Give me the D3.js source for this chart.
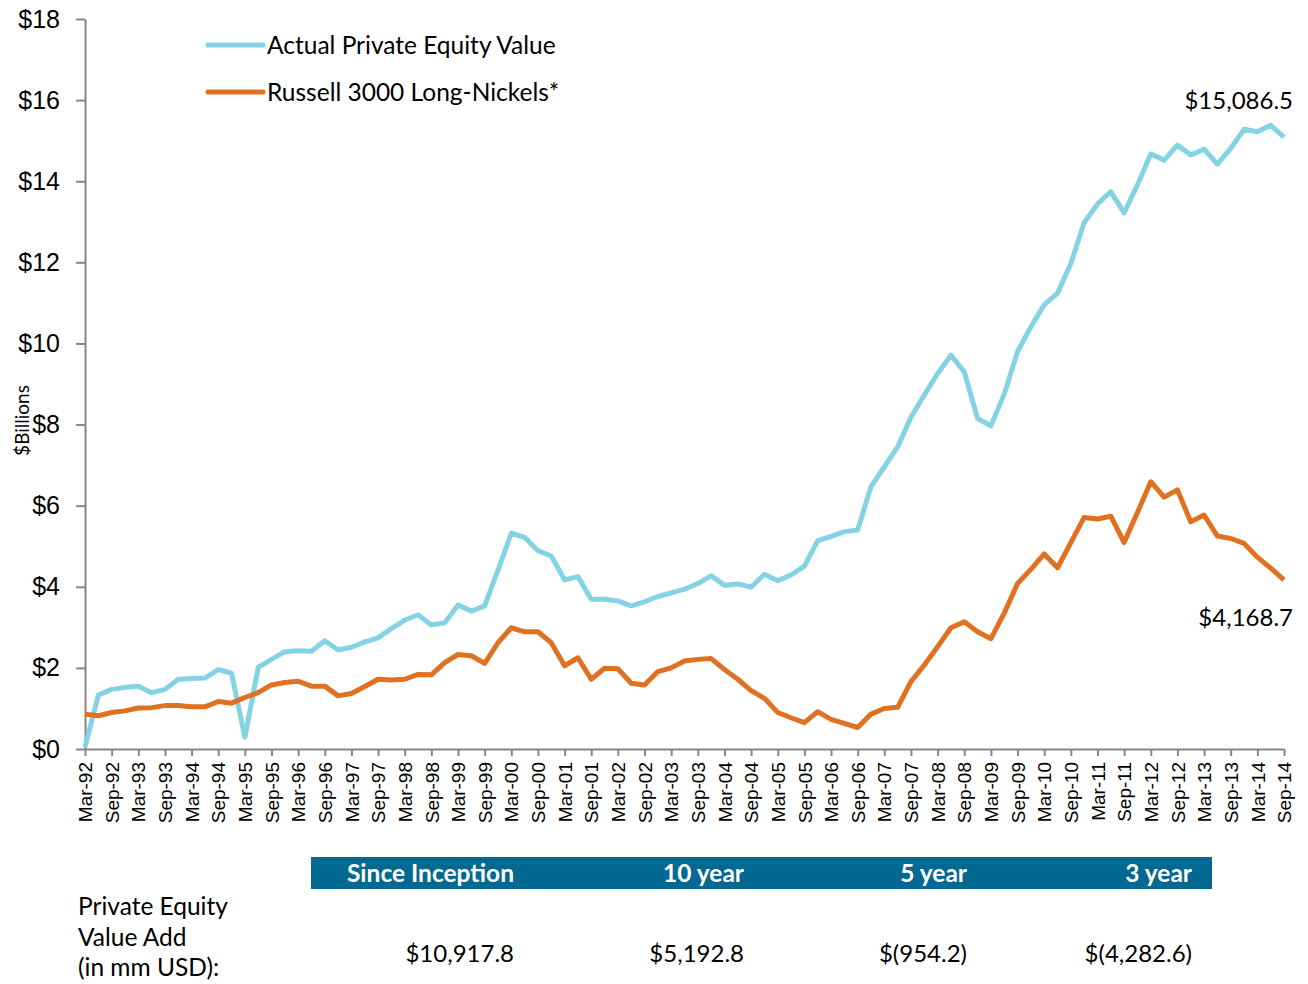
<!DOCTYPE html>
<html>
<head>
<meta charset="utf-8">
<script src="https://cdn.jsdelivr.net/npm/d3@7"></script>
<style>
  body { margin: 0; background: #fff; }
  svg { font-family: Lato, 'Open Sans', sans-serif; }
  .axis path, .axis line { stroke: #868686; stroke-width: 2; }
  .axis text { fill: #000; }
</style>
</head>
<body>
<div id="chart"></div>
<script>
// half-year tick labels (quarterly data, Mar-92 .. Sep-14)
const tickLabels = ['Mar-92','Sep-92','Mar-93','Sep-93','Mar-94','Sep-94','Mar-95','Sep-95','Mar-96','Sep-96',
  'Mar-97','Sep-97','Mar-98','Sep-98','Mar-99','Sep-99','Mar-00','Sep-00','Mar-01','Sep-01',
  'Mar-02','Sep-02','Mar-03','Sep-03','Mar-04','Sep-04','Mar-05','Sep-05','Mar-06','Sep-06',
  'Mar-07','Sep-07','Mar-08','Sep-08','Mar-09','Sep-09','Mar-10','Sep-10','Mar-11','Sep-11',
  'Mar-12','Sep-12','Mar-13','Sep-13','Mar-14','Sep-14'];

// $ billions, one value per quarter
const actualPE = [0.05, 1.33, 1.47, 1.52, 1.55, 1.39, 1.47, 1.72, 1.74, 1.75,
  1.96, 1.87, 0.29, 2.01, 2.21, 2.40, 2.42, 2.41, 2.67, 2.44,
  2.51, 2.64, 2.74, 2.97, 3.18, 3.31, 3.06, 3.11, 3.55, 3.40,
  3.53, 4.41, 5.32, 5.22, 4.89, 4.76, 4.17, 4.25, 3.69, 3.69,
  3.65, 3.53, 3.63, 3.76, 3.85, 3.94, 4.08, 4.27, 4.04, 4.07,
  3.99, 4.31, 4.15, 4.29, 4.51, 5.14, 5.24, 5.36, 5.40, 6.47,
  6.96, 7.45, 8.18, 8.73, 9.26, 9.71, 9.30, 8.15, 7.97, 8.75,
  9.80, 10.41, 10.95, 11.24, 11.97, 12.98, 13.44, 13.74, 13.22, 13.91,
  14.67, 14.52, 14.89, 14.65, 14.79, 14.42, 14.81, 15.28, 15.22, 15.38,
  15.09];

const russellLN = [0.86, 0.82, 0.90, 0.94, 1.01, 1.02, 1.07, 1.07, 1.04, 1.04,
  1.17, 1.13, 1.27, 1.39, 1.58, 1.64, 1.67, 1.55, 1.55, 1.31,
  1.37, 1.54, 1.72, 1.70, 1.72, 1.84, 1.83, 2.13, 2.33, 2.30,
  2.11, 2.62, 2.99, 2.89, 2.89, 2.62, 2.05, 2.25, 1.72, 1.99,
  1.98, 1.62, 1.58, 1.91, 2.00, 2.17, 2.21, 2.23, 1.96, 1.72,
  1.44, 1.25, 0.90, 0.77, 0.65, 0.92, 0.73, 0.63, 0.53, 0.86,
  1.00, 1.03, 1.66, 2.07, 2.52, 2.99, 3.14, 2.89, 2.72, 3.35,
  4.08, 4.43, 4.81, 4.47, 5.09, 5.71, 5.67, 5.74, 5.09, 5.83,
  6.59, 6.21, 6.39, 5.60, 5.77, 5.25, 5.19, 5.07, 4.73, 4.46,
  4.17];

const seriesNames = ['Actual Private Equity Value', 'Russell 3000 Long-Nickels*'];
const endLabels = ['$15,086.5', '$4,168.7'];
const yTicks = [0, 2, 4, 6, 8, 10, 12, 14, 16, 18];

const periods = ['Since Inception', '10 year', '5 year', '3 year'];
const valueAdd = ['$10,917.8', '$5,192.8', '$(954.2)', '$(4,282.6)'];
const rowLabel = ['Private Equity', 'Value Add', '(in mm USD):'];

const colors = ['#84d3e4', '#e07120'];

const W = 1308, H = 984;
const margin = { top: 19, right: 24, bottom: 235, left: 85 };
const width = W - margin.left - margin.right;
const height = H - margin.top - margin.bottom;

const svg = d3.select('#chart').append('svg')
  .attr('width', W)
  .attr('height', H);

const chart = svg.append('g')
  .attr('transform', `translate(${margin.left},${margin.top})`);

const x = d3.scaleLinear()
  .domain([0, actualPE.length - 1])
  .range([0, width]);

const y = d3.scaleLinear()
  .domain([0, 18])
  .range([height, 0]);

// y axis
const yaxis = d3.axisLeft(y)
  .tickValues(yTicks)
  .tickFormat(d => '$' + d)
  .tickSize(9)
  .tickSizeOuter(0)
  .tickPadding(16);

chart.append('g')
  .attr('class', 'y axis')
  .call(yaxis)
  .selectAll('text')
  .style('font-size', '25px');

// x axis, a tick every second quarter
const xaxis = d3.axisBottom(x)
  .tickValues(tickLabels.map((d, i) => i * 2))
  .tickFormat((d, i) => tickLabels[i])
  .tickSize(7)
  .tickSizeOuter(0);

chart.append('g')
  .attr('class', 'x axis')
  .attr('transform', `translate(0,${height})`)
  .call(xaxis)
  .selectAll('text')
  .attr('transform', 'rotate(-90)')
  .attr('text-anchor', 'end')
  .attr('x', -13)
  .attr('y', 0)
  .attr('dy', '0.35em')
  .style('font-size', '19px');

// y axis title
svg.append('text')
  .attr('transform', `translate(29,${margin.top + y(8.1)}) rotate(-90)`)
  .attr('text-anchor', 'middle')
  .style('font-size', '19px')
  .text('$Billions');

// lines
const line = d3.line()
  .x((d, i) => x(i))
  .y(d => y(d));

[actualPE, russellLN].forEach((s, k) => {
  chart.append('path')
    .datum(s)
    .attr('fill', 'none')
    .attr('stroke', colors[k])
    .attr('stroke-width', 5)
    .attr('stroke-linejoin', 'round')
    .attr('d', line);
});

// end value labels
const last = actualPE.length - 1;
chart.append('text')
  .attr('x', width + 9)
  .attr('y', y(actualPE[last]) - 28)
  .attr('text-anchor', 'end')
  .style('font-size', '24px')
  .text(endLabels[0]);

chart.append('text')
  .attr('x', width + 9)
  .attr('y', y(russellLN[last]) + 46)
  .attr('text-anchor', 'end')
  .style('font-size', '24px')
  .text(endLabels[1]);

// legend
const legend = svg.append('g').attr('transform', 'translate(208,45)');
seriesNames.forEach((name, k) => {
  const g = legend.append('g').attr('transform', `translate(0,${k * 47})`);
  g.append('line')
    .attr('x1', 0).attr('x2', 55)
    .attr('stroke', colors[k])
    .attr('stroke-width', 5)
    .attr('stroke-linecap', 'round');
  g.append('text')
    .attr('x', 59)
    .attr('dy', '0.35em')
    .style('font-size', '24.5px')
    .text(name);
});

// value add table
const colRight = [514, 744, 967, 1192];
svg.append('rect')
  .attr('x', 311).attr('y', 857)
  .attr('width', 901).attr('height', 32)
  .attr('fill', '#036991');

svg.selectAll('.period')
  .data(periods)
  .enter().append('text')
  .attr('class', 'period')
  .attr('x', (d, i) => colRight[i])
  .attr('y', 882)
  .attr('text-anchor', 'end')
  .attr('fill', '#fff')
  .style('font-size', '24.5px')
  .style('font-weight', 'bold')
  .text(d => d);

svg.selectAll('.va')
  .data(valueAdd)
  .enter().append('text')
  .attr('class', 'va')
  .attr('x', (d, i) => colRight[i])
  .attr('y', 962)
  .attr('text-anchor', 'end')
  .style('font-size', '24px')
  .text(d => d);

svg.selectAll('.rowlabel')
  .data(rowLabel)
  .enter().append('text')
  .attr('class', 'rowlabel')
  .attr('x', 78)
  .attr('y', (d, i) => 915 + i * 30.5)
  .style('font-size', '24.5px')
  .text(d => d);
</script>
</body>
</html>
